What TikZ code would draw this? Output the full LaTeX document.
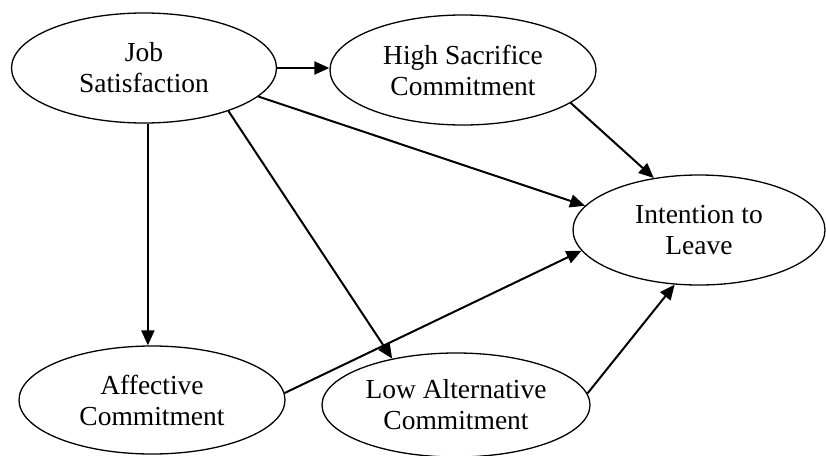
\documentclass[tikz,border=0pt]{standalone}
\usepackage{fontspec}
\setmainfont{Liberation Serif}
\usetikzlibrary{shapes.geometric,arrows.meta}
\begin{document}
\begin{tikzpicture}[x=1pt,y=-1pt,
  construct/.style={draw,ellipse,line width=1.3pt,inner sep=0pt,align=center,
    font=\fontsize{27.5}{31}\selectfont},
  link/.style={line width=2pt,-{Triangle[length=15pt,width=13pt]}}]
\useasboundingbox (0,0) rectangle (826,455);
\node[construct,minimum width=265,minimum height=110] (job) at (144,68) {Job\\Satisfaction};
\node[construct,minimum width=266,minimum height=110] (hsc) at (463,70) {High Sacrifice\\Commitment};
\node[construct,minimum width=252,minimum height=110] (itl) at (699,230) {Intention to\\Leave};
\node[construct,minimum width=266,minimum height=108] (aff) at (152,400) {Affective\\Commitment};
\node[construct,minimum width=268,minimum height=104] (lac) at (456,405) {Low Alternative\\Commitment};
\draw[link] (job.east) -- (job.east -| hsc.west);
\draw[link] (job.-14.3) -- (itl.168.3);
\draw[link] (job.-86.9) -- (job.-86.9 |- aff.north);
\draw[link] (job.-27.6) -- (lac.144.5);
\draw[link] (hsc.-17) -- (itl.131.6);
\draw[link] (aff.3.5) -- (itl.190.6);
\draw[link] (lac.5.8) -- (itl.246.4);
\end{tikzpicture}
\end{document}
